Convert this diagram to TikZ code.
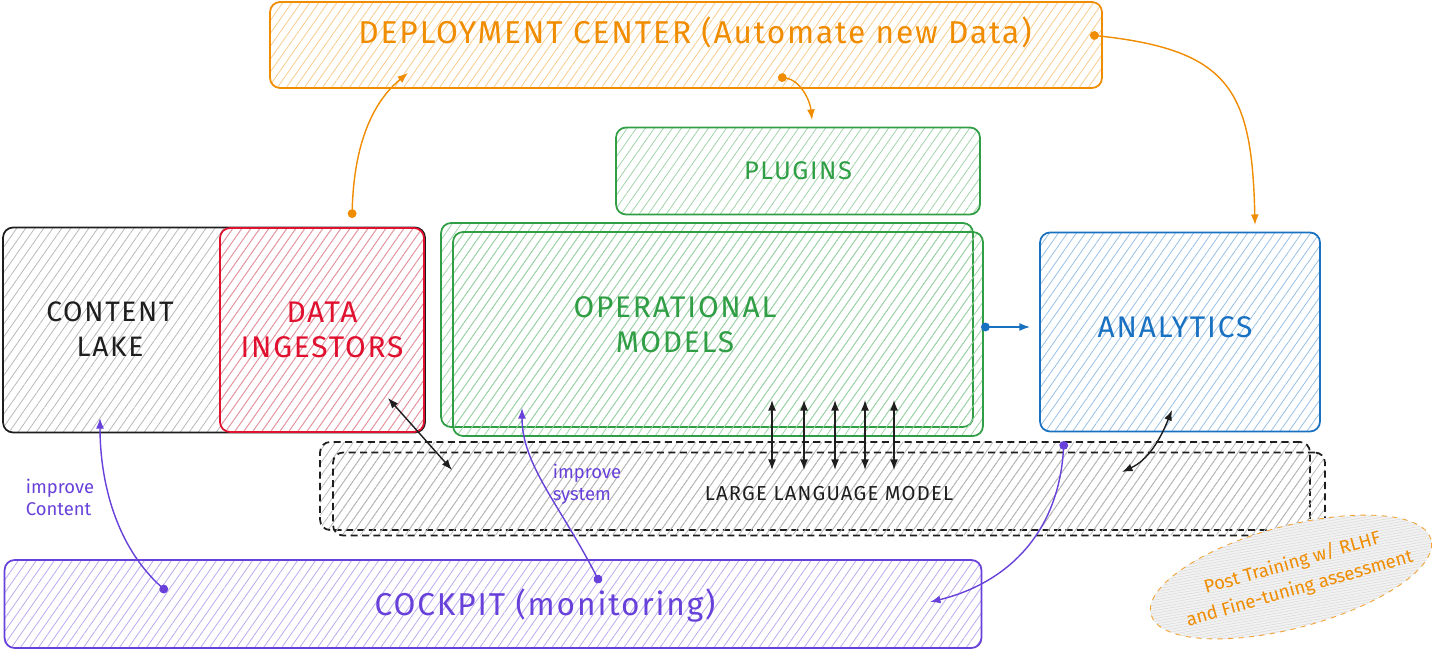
\documentclass[tikz,border=0pt]{standalone}
\usepackage{fontspec}
\setmainfont{Fira Sans}
\newfontfamily\hand[LetterSpace=6]{Fira Sans}
\usetikzlibrary{patterns.meta, arrows.meta, shapes.geometric, calc}

\definecolor{dcorange}{HTML}{F08C00}
\definecolor{plgreen}{HTML}{2F9E44}
\definecolor{dired}{HTML}{E0102F}
\definecolor{anblue}{HTML}{1971C2}
\definecolor{ckpurple}{HTML}{6741D9}
\definecolor{inkblack}{HTML}{1E1E1E}

\begin{document}
\begin{tikzpicture}[x=0.02cm, y=-0.02cm,
    box/.style={
      draw=#1, line width=1pt, rounded corners=0.2cm,
      pattern={Lines[angle=55,distance=4.2pt,line width=0.45pt]}, pattern color=#1!45
    },
    dashbox/.style={
      box=#1, dash pattern=on 4pt off 2.5pt
    },
    txt/.style={text=#1, font=\hand\fontsize{17}{20}\selectfont, align=center},
    small/.style={text=#1, font=\fontsize{10.5}{12.5}\selectfont, align=left},
    dotarrow/.style={
      draw=#1, line width=0.8pt, {Circle[length=5pt]}-{Latex[length=6pt,width=4.5pt]}
    },
    dbl/.style={
      draw=inkblack, line width=0.8pt, {Latex[length=6pt,width=4.5pt]}-{Latex[length=6pt,width=4.5pt]}
    },
  ]
  \useasboundingbox (0,0) rectangle (1432,651);

  % boxes
  \node[box=dcorange, minimum width=16.64cm, minimum height=1.72cm] (dc) at (686,45) {};
  \node[txt=dcorange, font=\hand\fontsize{18}{20}\selectfont] (dct) at (695,32) {DEPLOYMENT CENTER (Automate new Data)};

  \node[box=plgreen, minimum width=7.28cm, minimum height=1.74cm, txt=plgreen, font=\hand\fontsize{14.5}{17}\selectfont] (pl) at (798,171) {PLUGINS};

  \node[box=plgreen, minimum width=10.64cm, minimum height=4.08cm] (om0) at (707,325) {};
  \node[box=plgreen, minimum width=10.6cm, minimum height=4.08cm] (om) at (718,334) {};
  \node[txt=plgreen] (omt) at (675,325) {OPERATIONAL\\MODELS};

  \node[box=inkblack, pattern color=black!28, minimum width=8.44cm, minimum height=4.1cm] (cl) at (214,330) {};
  \node[txt=inkblack, font=\hand\fontsize{16}{20}\selectfont] (clt) at (110,329) {CONTENT\\LAKE};

  \node[box=dired, minimum width=4.08cm, minimum height=4.08cm, txt=dired] (di) at (322,330) {DATA\\INGESTORS};

  \node[box=anblue, minimum width=5.6cm, minimum height=3.98cm] (an) at (1180,332) {};
  \node[txt=anblue] (ant) at (1175,327) {ANALYTICS};

  \node[dashbox=inkblack, pattern color=black!28, minimum width=19.8cm, minimum height=1.76cm] (llm0) at (815,486) {};
  \node[dashbox=inkblack, pattern color=black!28, minimum width=19.84cm, minimum height=1.66cm, txt=inkblack,
    font=\hand\fontsize{11.5}{14}\selectfont] (llm) at (829,494) {LARGE LANGUAGE MODEL};

  \node[box=ckpurple, minimum width=19.54cm, minimum height=1.76cm] (ck) at (493,604) {};
  \node[txt=ckpurple, font=\hand\fontsize{18}{20}\selectfont] (ckt) at (545,606) {COCKPIT (monitoring)};

  \node[ellipse, draw=dcorange!80, dashed, line width=0.5pt, preaction={fill=gray!10},
    pattern={Lines[angle=10,distance=1.5pt,line width=0.3pt]}, pattern color=gray!30,
    minimum width=5.8cm, minimum height=2.04cm, rotate=15] (pt) at (1291,577) {};
  \node[rotate=16, text=dcorange, font=\fontsize{10.5}{15}\selectfont, align=center] (ptt) at (1296,576)
    {Post Training w/ RLHF\\and Fine-tuning assessment};

  % deployment center links
  \coordinate (o1s) at (352,218);
  \coordinate (o1e) at (408,73);
  \coordinate (o2s) at (778,77);
  \coordinate (o2e) at (812,120);
  \coordinate (o3s) at (1090,35);
  \coordinate (o3e) at (1255,225);
  \draw[dotarrow=dcorange] (o1s) .. controls (354,140) and (375,100) .. (o1e);
  \draw[dotarrow=dcorange] (o2s) .. controls (800,80) and (810,100) .. (o2e);
  \draw[dotarrow=dcorange] (o3s) .. controls (1230,50) and (1252,90) .. (o3e);

  % models to analytics
  \coordinate (b1s) at (981,327);
  \coordinate (b1e) at (1030,327);
  \draw[dotarrow=anblue] (b1s) -- (b1e);

  % links with the language model
  \foreach \x [count=\i] in {772,804,835,865,894} {
    \coordinate (t\i) at (\x,400);
    \coordinate (u\i) at (\x,470);
    \draw[dbl] (u\i) -- (t\i);
  }
  \coordinate (k1) at (388,398);
  \coordinate (k2) at (452,470);
  \draw[dbl] (k1) -- (k2);
  \coordinate (k3) at (1172,410);
  \coordinate (k4) at (1122,472);
  \draw[dbl] (k3) .. controls (1160,440) and (1148,460) .. (k4);

  % cockpit links
  \coordinate (p1s) at (167,592);
  \coordinate (p1e) at (100,418);
  \coordinate (p2s) at (600,583);
  \coordinate (p2e) at (522,408);
  \coordinate (p3s) at (1064,441);
  \coordinate (p3e) at (930,602);
  \draw[dotarrow=ckpurple] (p1s) .. controls (115,545) and (100,480) .. (p1e);
  \draw[dotarrow=ckpurple] (p2s) .. controls (560,505) and (522,465) .. (p2e);
  \draw[dotarrow=ckpurple] (p3s) .. controls (1058,540) and (1000,585) .. (p3e);
  \node[small=ckpurple] (lc) at (60,497) {improve\\Content};
  \node[small=ckpurple] (ls) at (587,484) {improve\\system};
\end{tikzpicture}
\end{document}
